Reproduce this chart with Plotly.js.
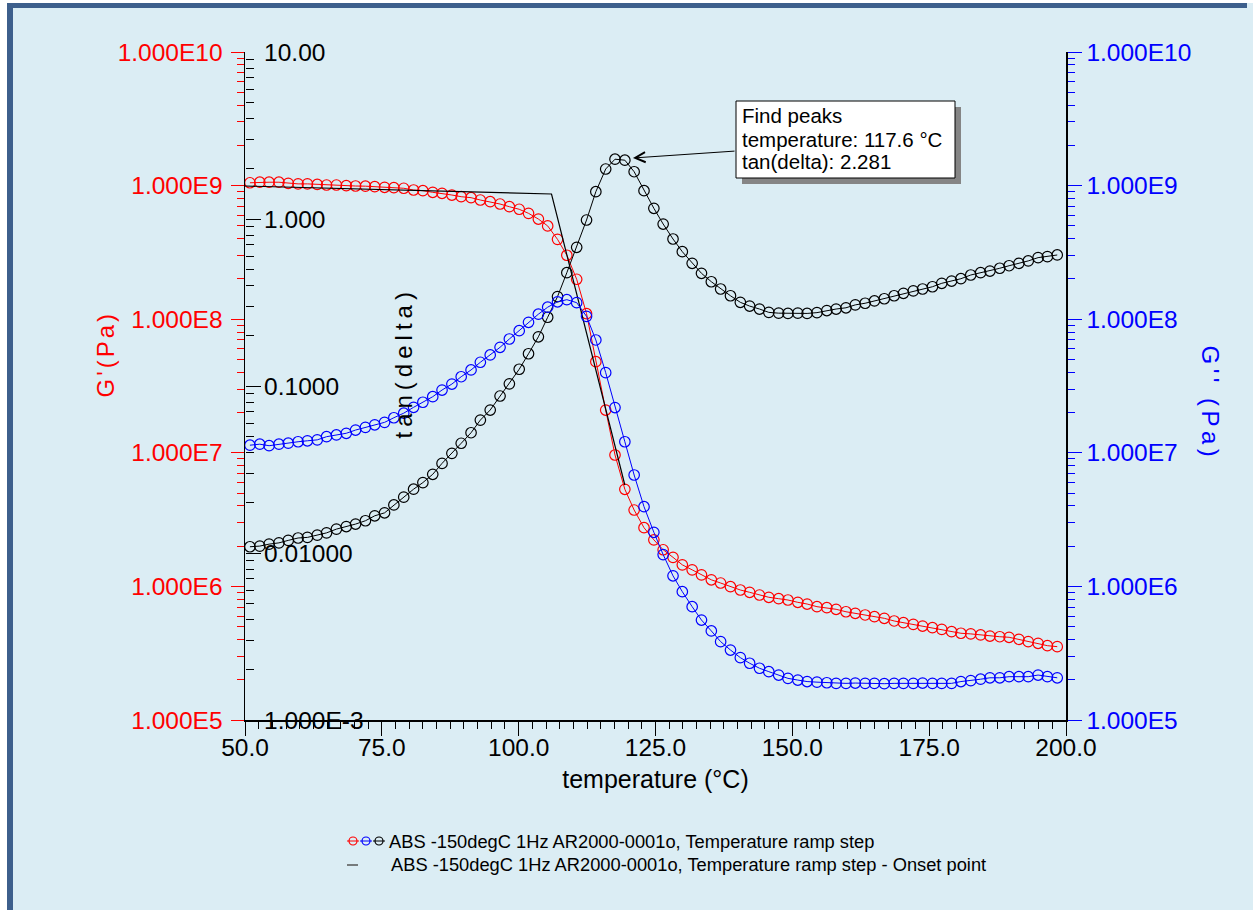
<!DOCTYPE html>
<html>
<head>
<meta charset="utf-8">
<script src="https://cdn.plot.ly/plotly-3.0.1.min.js"></script>
<style>
  html, body { margin:0; padding:0; background:#ffffff; }
  #wrap { position:relative; width:1253px; height:910px; overflow:hidden; }
  #chart { position:absolute; left:0; top:0; width:1253px; height:910px; }
  .frame { position:absolute; pointer-events:none; }
</style>
</head>
<body>
<div id="wrap">
  <div id="chart"></div>
  <div class="frame" style="left:0;top:0;width:7px;height:910px;background:#ffffff;"></div>
  <div class="frame" style="left:0;top:0;width:1253px;height:3px;background:#ffffff;"></div>
  <div class="frame" style="left:7px;top:3px;width:6px;height:907px;background:#3d5f8c;"></div>
  <div class="frame" style="left:7px;top:3px;width:1240px;height:5px;background:#3d5f8c;"></div>
</div>
<script>
// ---------------- data ----------------
const temperature = [
  50.9, 52.7, 54.4, 56.2, 57.9, 59.7, 61.4, 63.2, 64.9, 66.7,
  68.5, 70.2, 72.0, 73.7, 75.5, 77.2, 79.0, 80.8, 82.5, 84.3,
  86.0, 87.8, 89.5, 91.3, 93.0, 94.8, 96.6, 98.3, 100.1, 101.8,
  103.6, 105.3, 107.1, 108.8, 110.6, 112.4, 114.1, 115.9, 117.6, 119.4,
  121.1, 122.9, 124.7, 126.4, 128.2, 129.9, 131.7, 133.4, 135.2, 136.9,
  138.7, 140.5, 142.2, 144.0, 145.7, 147.5, 149.2, 151.0, 152.7, 154.5,
  156.3, 158.0, 159.8, 161.5, 163.3, 165.0, 166.8, 168.6, 170.3, 172.1,
  173.8, 175.6, 177.3, 179.1, 180.8, 182.6, 184.4, 186.1, 187.9, 189.6,
  191.4, 193.1, 194.9, 196.6, 198.4
];
const storageModulus = [ // G' (Pa)
  1.05e9, 1.06e9, 1.06e9, 1.06e9, 1.04e9, 1.03e9, 1.03e9, 1.02e9, 1.01e9, 1.01e9,
  9.98e8, 9.93e8, 9.90e8, 9.81e8, 9.71e8, 9.65e8, 9.55e8, 9.27e8, 9.16e8, 8.91e8,
  8.76e8, 8.50e8, 8.26e8, 8.12e8, 7.80e8, 7.58e8, 7.28e8, 6.95e8, 6.65e8, 6.20e8,
  5.62e8, 4.99e8, 3.96e8, 3.01e8, 1.99e8, 1.10e8, 4.81e7, 2.09e7, 9.63e6, 5.33e6,
  3.73e6, 2.75e6, 2.23e6, 1.88e6, 1.65e6, 1.45e6, 1.33e6, 1.22e6, 1.12e6, 1.06e6,
  9.95e5, 9.40e5, 9.03e5, 8.62e5, 8.29e5, 8.09e5, 7.91e5, 7.60e5, 7.38e5, 7.05e5,
  6.93e5, 6.74e5, 6.46e5, 6.29e5, 6.11e5, 5.93e5, 5.77e5, 5.51e5, 5.35e5, 5.20e5,
  5.05e5, 4.91e5, 4.77e5, 4.58e5, 4.46e5, 4.41e5, 4.33e5, 4.25e5, 4.20e5, 4.16e5,
  4.02e5, 3.86e5, 3.75e5, 3.60e5, 3.54e5
];
const lossModulus = [ // G'' (Pa)
  1.14e7, 1.16e7, 1.13e7, 1.16e7, 1.18e7, 1.21e7, 1.23e7, 1.25e7, 1.32e7, 1.36e7,
  1.40e7, 1.48e7, 1.55e7, 1.62e7, 1.69e7, 1.83e7, 1.98e7, 2.19e7, 2.39e7, 2.63e7,
  2.95e7, 3.27e7, 3.71e7, 4.17e7, 4.76e7, 5.40e7, 6.16e7, 7.11e7, 8.20e7, 9.48e7,
  1.09e8, 1.23e8, 1.35e8, 1.40e8, 1.33e8, 1.05e8, 6.99e7, 3.98e7, 2.18e7, 1.21e7,
  6.82e6, 3.95e6, 2.54e6, 1.73e6, 1.20e6, 9.13e5, 7.05e5, 5.60e5, 4.64e5, 3.86e5,
  3.34e5, 2.93e5, 2.66e5, 2.44e5, 2.30e5, 2.17e5, 2.05e5, 1.99e5, 1.94e5, 1.92e5,
  1.90e5, 1.88e5, 1.88e5, 1.89e5, 1.88e5, 1.88e5, 1.87e5, 1.88e5, 1.88e5, 1.88e5,
  1.89e5, 1.88e5, 1.88e5, 1.88e5, 1.94e5, 1.97e5, 2.02e5, 2.07e5, 2.07e5, 2.11e5,
  2.11e5, 2.11e5, 2.17e5, 2.11e5, 2.07e5
];
const tanDelta = [
  0.0109, 0.0110, 0.0113, 0.0115, 0.0119, 0.0123, 0.0124, 0.0128, 0.0132, 0.0139,
  0.0144, 0.0149, 0.0156, 0.0167, 0.0174, 0.0194, 0.0216, 0.0241, 0.0264, 0.0296,
  0.0344, 0.0395, 0.0454, 0.0525, 0.0625, 0.0718, 0.0871, 0.103, 0.126, 0.156,
  0.197, 0.258, 0.343, 0.477, 0.677, 0.986, 1.457, 1.992, 2.281, 2.25,
  1.919, 1.477, 1.159, 0.933, 0.759, 0.637, 0.543, 0.473, 0.421, 0.381,
  0.347, 0.317, 0.301, 0.289, 0.276, 0.273, 0.272, 0.273, 0.272, 0.275,
  0.283, 0.289, 0.294, 0.306, 0.313, 0.323, 0.333, 0.347, 0.359, 0.371,
  0.381, 0.393, 0.412, 0.425, 0.439, 0.462, 0.477, 0.488, 0.507, 0.525,
  0.543, 0.561, 0.587, 0.595, 0.609
];
const onsetTemperature = [50.0, 106.0, 119.4];
const onsetModulus = [9.93e8, 8.65e8, 5.74e6];

const tempTickVals = [50, 75, 100, 125, 150, 175, 200];
const tempTickText = ['50.0', '75.0', '100.0', '125.0', '150.0', '175.0', '200.0'];
const modulusTickVals = [1e5, 1e6, 1e7, 1e8, 1e9, 1e10];
const modulusTickText = ['1.000E5', '1.000E6', '1.000E7', '1.000E8', '1.000E9', '1.000E10'];
const tanTickVals = [0.001, 0.01, 0.1, 1, 10];
const tanTickText = ['1.000E-3', '0.01000', '0.1000', '1.000', '10.00'];

const legendLabel1 = 'ABS -150degC 1Hz AR2000-0001o, Temperature ramp step';
const legendLabel2 = 'ABS -150degC 1Hz AR2000-0001o, Temperature ramp step - Onset point';
const peakLines = ['Find peaks', 'temperature: 117.6 °C', 'tan(delta): 2.281'];

// ---------------- helpers ----------------
function logMinors(lo, hi) {
  const out = [];
  for (let e = lo; e < hi; e++) for (let m = 2; m <= 9; m++) out.push(m * Math.pow(10, e));
  return out;
}
const PL = 245, PR = 1066, PT = 52, PB = 720;
const PX = px => (px - PL) / (PR - PL);
const PY = py => (PB - py) / (PB - PT);

const FONT = 'Liberation Sans, Arial, sans-serif';
const RED = '#ff0000', BLUE = '#0000ff', BLACK = '#000000';
const BG = '#dbedf4';

const mk = (color) => ({ symbol: 'circle-open', size: 10.5, color: color, line: { width: 1.2, color: color } });

const traces = [
  { x: temperature, y: lossModulus, yaxis: 'y3', mode: 'lines+markers', line: { color: BLUE, width: 1 }, marker: mk(BLUE), name: "G''" },
  { x: temperature, y: storageModulus, yaxis: 'y', mode: 'lines+markers', line: { color: RED, width: 1 }, marker: mk(RED), name: "G'" },
  { x: temperature, y: tanDelta, yaxis: 'y2', mode: 'lines+markers', line: { color: BLACK, width: 1 }, marker: mk(BLACK), name: 'tan(delta)' },
  { x: onsetTemperature, y: onsetModulus, yaxis: 'y', mode: 'lines', line: { color: BLACK, width: 1.2 }, name: 'Onset point' }
];

const shapes = [];
const annotations = [];

// peak annotation box with shadow
shapes.push({ type: 'rect', xref: 'paper', yref: 'paper', layer: 'above',
  x0: PX(742), x1: PX(961), y0: PY(184), y1: PY(107), fillcolor: '#858585', line: { width: 0 } });
shapes.push({ type: 'rect', xref: 'paper', yref: 'paper', layer: 'above',
  x0: PX(736), x1: PX(955), y0: PY(178), y1: PY(101), fillcolor: '#ffffff', line: { width: 1, color: BLACK } });
const lineY = [116, 139, 161];
peakLines.forEach((t, i) => annotations.push({
  xref: 'paper', yref: 'paper', x: PX(740), y: PY(lineY[i]), xanchor: 'left', yanchor: 'middle',
  text: t, showarrow: false, font: { family: FONT, size: 20.5, color: BLACK }
}));
annotations.push({ xref: 'paper', yref: 'paper', x: PX(633), y: PY(158), ax: 103, ay: -7,
  text: '', showarrow: true, arrowhead: 5, arrowsize: 2, arrowwidth: 1, arrowcolor: BLACK, standoff: 0 });

// axis titles
annotations.push({ xref: 'paper', yref: 'paper', x: PX(90), y: PY(354), textangle: -90, showarrow: false,
  text: "<span style=\"letter-spacing:3px\">G'(Pa)</span>", font: { family: FONT, size: 24, color: RED } });
annotations.push({ xref: 'paper', yref: 'paper', x: PX(387), y: PY(363), textangle: -90, showarrow: false,
  text: '<span style="letter-spacing:5px">tan(delta)</span>', font: { family: FONT, size: 24, color: BLACK } });
annotations.push({ xref: 'paper', yref: 'paper', x: PX(1225), y: PY(403), textangle: 90, showarrow: false,
  text: "<span style=\"letter-spacing:4.5px\">G'' (Pa)</span>", font: { family: FONT, size: 24, color: BLUE } });

// legend (manual)
const legY1 = 841, legY2 = 865;
[[353, RED], [366, BLUE], [379, BLACK]].forEach(([cx, c]) => {
  shapes.push({ type: 'line', xref: 'paper', yref: 'paper', x0: PX(cx - 6), x1: PX(cx + 6), y0: PY(legY1), y1: PY(legY1), line: { color: c, width: 1 } });
  shapes.push({ type: 'circle', xref: 'paper', yref: 'paper', x0: PX(cx - 4), x1: PX(cx + 4), y0: PY(legY1 + 4), y1: PY(legY1 - 4), line: { color: c, width: 1.2 } });
});
shapes.push({ type: 'line', xref: 'paper', yref: 'paper', x0: PX(347), x1: PX(358), y0: PY(legY2), y1: PY(legY2), line: { color: '#555555', width: 1.5 } });
annotations.push({ xref: 'paper', yref: 'paper', x: PX(387), y: PY(legY1), xanchor: 'left', yanchor: 'middle', showarrow: false,
  text: legendLabel1, font: { family: FONT, size: 18.3, color: BLACK } });
annotations.push({ xref: 'paper', yref: 'paper', x: PX(389), y: PY(legY2), xanchor: 'left', yanchor: 'middle', showarrow: false,
  text: legendLabel2, font: { family: FONT, size: 18.3, color: BLACK } });

const layout = {
  width: 1253, height: 910,
  margin: { l: PL, r: 1253 - PR, t: PT, b: 910 - PB, pad: 0 },
  paper_bgcolor: BG, plot_bgcolor: BG,
  showlegend: false,
  hovermode: false,
  font: { family: FONT, color: BLACK },
  xaxis: {
    range: [50, 200], tickmode: 'array', tickvals: tempTickVals, ticktext: tempTickText,
    ticks: 'outside', ticklen: 14, tickwidth: 1, tickcolor: BLACK, ticklabelstandoff: -9,
    minor: { dtick: 2.5, tick0: 50, ticks: 'outside', ticklen: 7, tickwidth: 1, tickcolor: BLACK, showgrid: false },
    showline: true, linecolor: BLACK, linewidth: 1.5, showgrid: false, zeroline: false,
    tickfont: { size: 24.5, color: BLACK },
    title: { text: 'temperature (°C)', font: { size: 25, color: BLACK }, standoff: 10 }
  },
  yaxis: {
    type: 'log', range: [5, 10], tickmode: 'array', tickvals: modulusTickVals, ticktext: modulusTickText,
    ticks: 'outside', ticklen: 13, tickwidth: 1, tickcolor: RED, ticklabelstandoff: 3,
    minor: { tickmode: 'array', tickvals: logMinors(5, 10), ticks: 'outside', ticklen: 7, tickwidth: 1, tickcolor: RED, showgrid: false },
    showline: true, linecolor: BLACK, linewidth: 1.5, showgrid: false, zeroline: false,
    tickfont: { size: 24.5, color: RED }
  },
  yaxis2: {
    type: 'log', range: [-3, 1], overlaying: 'y', side: 'left', anchor: 'free', position: 0,
    tickmode: 'array', tickvals: tanTickVals, ticktext: tanTickText,
    ticks: 'inside', ticklen: 15, tickwidth: 1, tickcolor: BLACK,
    ticklabelposition: 'inside', ticklabeloverflow: 'allow', ticklabelstandoff: 5,
    minor: { tickmode: 'array', tickvals: logMinors(-3, 1), ticks: 'inside', ticklen: 8, tickwidth: 1, tickcolor: BLACK, showgrid: false },
    showline: false, showgrid: false, zeroline: false,
    tickfont: { size: 24.5, color: BLACK }
  },
  yaxis3: {
    type: 'log', range: [5, 10], overlaying: 'y', side: 'right', anchor: 'x',
    tickmode: 'array', tickvals: modulusTickVals, ticktext: modulusTickText,
    ticks: 'outside', ticklen: 14, tickwidth: 1, tickcolor: BLUE,
    minor: { tickmode: 'array', tickvals: logMinors(5, 10), ticks: 'outside', ticklen: 7, tickwidth: 1, tickcolor: BLUE, showgrid: false },
    showline: true, linecolor: BLACK, linewidth: 1.5, showgrid: false, zeroline: false,
    tickfont: { size: 24.5, color: BLUE }
  },
  shapes: shapes,
  annotations: annotations
};

Plotly.newPlot('chart', traces, layout, { displayModeBar: false, staticPlot: true });
</script>
</body>
</html>
